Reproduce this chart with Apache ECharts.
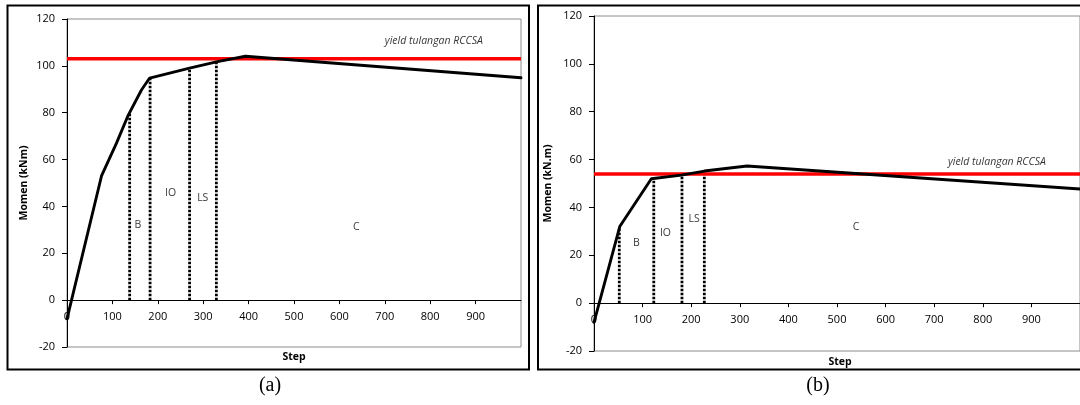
<!DOCTYPE html>
<html><head><meta charset="utf-8">
<script src="https://cdn.jsdelivr.net/npm/echarts@6.0.0/dist/echarts.min.js"></script>
<style>html,body{margin:0;padding:0;background:#fff}#c{width:1080px;height:405px}</style>
</head><body><div id="c"></div><script>
// ---- data ----
const stepsA = [0, 76, 109, 135, 164, 182, 270, 329, 393, 1000];
const momenA = [-8, 53, 67, 79, 89.7, 94.8, 99, 101.7, 104.1, 94.9];
const yieldA = 103;
const dotStepsA = [138, 183, 270, 329];
const dotTopsA = [80, 94.5, 98.5, 101.5];
const zoneNames = ['B', 'IO', 'LS', 'C'];
const zoneStepsA = [156, 228, 299, 637];
const zoneMomenA = [32, 45.7, 43.5, 31];
const yieldLabelA = [808, 110.6];

const stepsB = [0, 53, 118, 180, 227, 315, 1000];
const momenB = [-8, 32, 52, 53.5, 55.2, 57.3, 47.7];
const yieldB = 54;
const dotStepsB = [52, 123, 181, 227];
const dotTopsB = [31.5, 52.2, 53.5, 55.2];
const zoneStepsB = [87, 147, 206, 539];
const zoneMomenB = [25.3, 29.5, 35.3, 31.7];
const yieldLabelB = [829, 58.8];

const yieldText = 'yield tulangan RCCSA';
const xMin = 0, xMax = 1000, xStep = 100;
const yMin = -20, yMax = 120, yStep = 20;
const yNames = ['Momen (kNm)', 'Momen (kN.m)'];
const xName = 'Step';
const captions = ['(a)', '(b)'];

// ---- chart ----
const FONT = '"Open Sans", "Liberation Sans", sans-serif';
const TXT = '#000';
const chart = echarts.init(document.getElementById('c'), null, {renderer: 'canvas'});

const grids = [
  {left: 67, top: 19, width: 454, height: 328},
  {left: 594, top: 16, width: 490, height: 335}
];

function xAxis(i) {
  const g = grids[i];
  // place the axis where y = 0 lies inside the grid
  const zeroOffset = -g.height * (0 - yMin) / (yMax - yMin);
  return {
    type: 'value', gridIndex: i, min: xMin, max: xMax, interval: xStep,
    position: 'bottom', offset: zeroOffset,
    axisLine: {onZero: false, lineStyle: {color: '#000', width: 1}},
    axisTick: {show: true, inside: false, length: 4, lineStyle: {color: '#000'}},
    axisLabel: {margin: 11, fontFamily: FONT, fontSize: 11, color: TXT, showMaxLabel: false},
    splitLine: {show: false}
  };
}
function yAxis(i) {
  return {
    type: 'value', gridIndex: i, min: yMin, max: yMax, interval: yStep,
    axisLine: {show: true, onZero: false, lineStyle: {color: '#000', width: 1}},
    axisTick: {show: true, length: 5, lineStyle: {color: '#000'}},
    axisLabel: {margin: 12, fontFamily: FONT, fontSize: 11, color: TXT},
    splitLine: {show: false}
  };
}
function seriesFor(i, steps, momen, yv, dotSteps, dotTops, zSteps, zMomen, yLab) {
  const out = [];
  dotSteps.forEach((s, k) => {
    out.push({
      type: 'line', xAxisIndex: i, yAxisIndex: i, symbol: 'none', z: 2,
      data: [[s, 0], [s, dotTops[k]]],
      lineStyle: {color: '#000', width: 2.8, type: [2.4, 1.6]}
    });
  });
  out.push({
    type: 'line', xAxisIndex: i, yAxisIndex: i, symbol: 'none', z: 3,
    data: [[xMin, yv], [xMax, yv]],
    lineStyle: {color: '#ff0000', width: 3.5}
  });
  out.push({
    type: 'line', xAxisIndex: i, yAxisIndex: i, symbol: 'none', z: 4,
    data: steps.map((s, k) => [s, momen[k]]),
    lineStyle: {color: '#000', width: 2.9, join: 'round', cap: 'round'}
  });
  const lab = zoneNames.map((n, k) => ({name: n, value: [zSteps[k], zMomen[k]],
    label: {fontStyle: 'normal', fontSize: 10.5}}));
  lab.push({name: yieldText, value: yLab, label: {fontStyle: 'italic', fontSize: 10.5}});
  out.push({
    type: 'scatter', xAxisIndex: i, yAxisIndex: i, z: 5, symbolSize: 1,
    itemStyle: {color: 'rgba(0,0,0,0)'},
    data: lab,
    label: {show: true, position: 'inside', formatter: '{b}', fontFamily: FONT,
      color: TXT, align: 'center', verticalAlign: 'middle'}
  });
  return out;
}

const option = {
  animation: false,
  backgroundColor: '#fff',
  grid: grids.map(g => Object.assign({show: true, borderColor: '#8c8c8c', borderWidth: 1,
    backgroundColor: 'transparent'}, g)),
  xAxis: [xAxis(0), xAxis(1)],
  yAxis: [yAxis(0), yAxis(1)],
  series: [].concat(
    seriesFor(0, stepsA, momenA, yieldA, dotStepsA, dotTopsA, zoneStepsA, zoneMomenA, yieldLabelA),
    seriesFor(1, stepsB, momenB, yieldB, dotStepsB, dotTopsB, zoneStepsB, zoneMomenB, yieldLabelB)
  ),
  graphic: [
    {type: 'rect', shape: {x: 7.5, y: 5.5, width: 521.5, height: 364}, z: 100,
      style: {fill: null, stroke: '#000', lineWidth: 2}},
    {type: 'rect', shape: {x: 538, y: 5.5, width: 600, height: 364}, z: 100,
      style: {fill: null, stroke: '#000', lineWidth: 2}},
    {type: 'text', x: 24, y: 183, rotation: Math.PI / 2, z: 100,
      style: {text: yNames[0], font: 'bold 10.5px ' + FONT, fill: '#000', align: 'center', verticalAlign: 'middle'}},
    {type: 'text', x: 548, y: 183.5, rotation: Math.PI / 2, z: 100,
      style: {text: yNames[1], font: 'bold 10.5px ' + FONT, fill: '#000', align: 'center', verticalAlign: 'middle'}},
    {type: 'text', x: 294, y: 357, z: 100,
      style: {text: xName, font: 'bold 10.5px ' + FONT, fill: '#000', align: 'center', verticalAlign: 'middle'}},
    {type: 'text', x: 840, y: 362, z: 100,
      style: {text: xName, font: 'bold 10.5px ' + FONT, fill: '#000', align: 'center', verticalAlign: 'middle'}},
    {type: 'text', x: 270, y: 386, z: 100,
      style: {text: captions[0], font: '20px "Liberation Serif", serif', fill: '#000', align: 'center', verticalAlign: 'middle'}},
    {type: 'text', x: 818, y: 386, z: 100,
      style: {text: captions[1], font: '20px "Liberation Serif", serif', fill: '#000', align: 'center', verticalAlign: 'middle'}}
  ]
};
chart.setOption(option);
</script></body></html>
